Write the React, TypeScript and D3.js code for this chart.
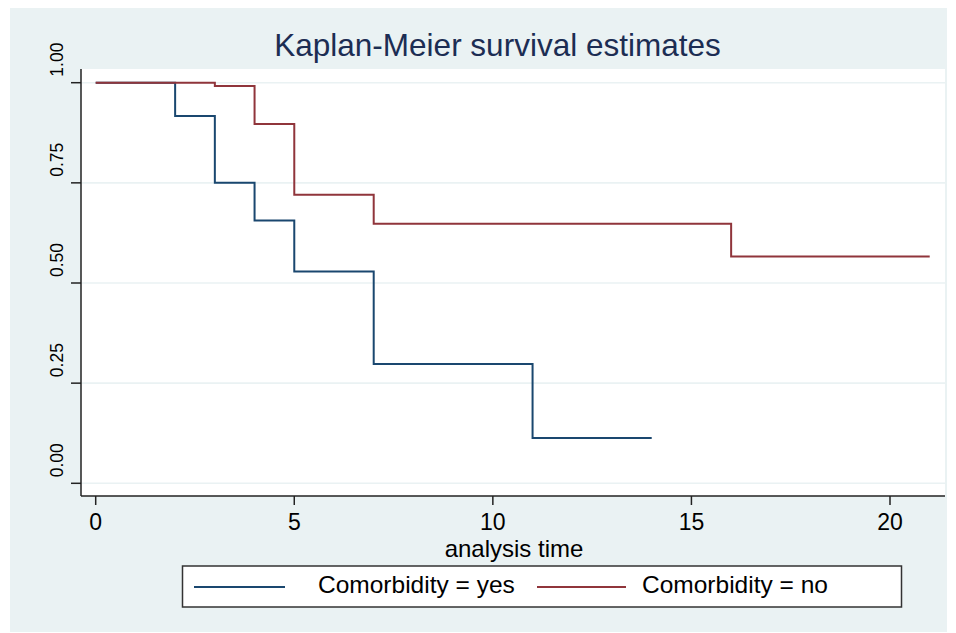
import React from 'react'
import * as d3 from 'd3'

// Kaplan-Meier step values
const timesYes = [0, 2, 3, 4, 5, 7, 11, 14]
const survYes = [1, 0.917, 0.75, 0.656, 0.529, 0.298, 0.113, 0.113]
const timesNo = [0, 3, 4, 5, 7, 16, 21]
const survNo = [1, 0.992, 0.897, 0.72, 0.648, 0.566, 0.566]

const xTicks = [0, 5, 10, 15, 20]
const yTicks = [0, 0.25, 0.5, 0.75, 1]
const seriesLabels = ['Comorbidity = yes', 'Comorbidity = no']

const W = 956
const H = 633
const FONT = 'Liberation Sans, Arial, Helvetica, sans-serif'
const BG = '#eaf2f3'
const BLUE = '#1a476f'
const RED = '#90353b'

type Pt = [number, number]

const App = () => {
    const plot = { left: 81, right: 945, top: 69, bottom: 496 }

    const x = d3.scaleLinear().domain([0, 20]).range([95.7, 890])
    const y = d3.scaleLinear().domain([0, 1]).range([483.3, 82.7])

    const line = d3.line<Pt>()
        .x(d => x(d[0]))
        .y(d => y(d[1]))
        .curve(d3.curveStepAfter)

    const yes: Pt[] = timesYes.map((t, i) => [t, survYes[i]])
    const no: Pt[] = timesNo.map((t, i) => [t, survNo[i]])

    const fmt = d3.format('.2f')

    return (
        <svg width={W} height={H} style={{ position: 'absolute', left: 0, top: 0 }} fontFamily={FONT}>
            <rect x={0} y={0} width={W} height={H} fill="#fff" />
            <rect x={10} y={8} width={937} height={624} fill={BG} />
            <rect x={plot.left} y={plot.top} width={plot.right - plot.left} height={plot.bottom - plot.top} fill="#fff" />

            {yTicks.map(t => (
                <line key={'g' + t} x1={plot.left} x2={plot.right} y1={y(t)} y2={y(t)} stroke={BG} strokeWidth={1.6} />
            ))}

            <path d={line(yes)!} fill="none" stroke={BLUE} strokeWidth={2} />
            <path d={line(no)!} fill="none" stroke={RED} strokeWidth={2} />

            {/* axes */}
            <line x1={plot.left} x2={plot.left} y1={plot.top} y2={plot.bottom} stroke="#222" strokeWidth={1.5} />
            <line x1={plot.left} x2={plot.right} y1={plot.bottom} y2={plot.bottom} stroke="#222" strokeWidth={1.5} />

            {yTicks.map(t => (
                <g key={'y' + t}>
                    <line x1={plot.left - 10} x2={plot.left} y1={y(t)} y2={y(t)} stroke="#222" strokeWidth={1.5} />
                    <text transform={`translate(63,${y(t) - 6}) rotate(-90)`} textAnchor="start" fontSize={17.5} fill="#000">
                        {fmt(t)}
                    </text>
                </g>
            ))}

            {xTicks.map(t => (
                <g key={'x' + t}>
                    <line x1={x(t)} x2={x(t)} y1={plot.bottom} y2={plot.bottom + 9} stroke="#222" strokeWidth={1.5} />
                    <text x={x(t)} y={530} textAnchor="middle" fontSize={23} fill="#000">{t}</text>
                </g>
            ))}

            <text x={514} y={557} textAnchor="middle" fontSize={24} fill="#000">analysis time</text>

            <text x={497.5} y={56} textAnchor="middle" fontSize={31.5} fill="#1c2d53">Kaplan-Meier survival estimates</text>

            {/* legend */}
            <rect x={182.5} y={566} width={719} height={41} fill="#fff" stroke="#333" strokeWidth={1.5} />
            <line x1={194} x2={285} y1={587} y2={587} stroke={BLUE} strokeWidth={2} />
            <text x={318} y={593} fontSize={24.5} fill="#000">{seriesLabels[0]}</text>
            <line x1={537} x2={626} y1={587} y2={587} stroke={RED} strokeWidth={2} />
            <text x={642} y={593} fontSize={24.5} fill="#000">{seriesLabels[1]}</text>
        </svg>
    )
}

export default App
